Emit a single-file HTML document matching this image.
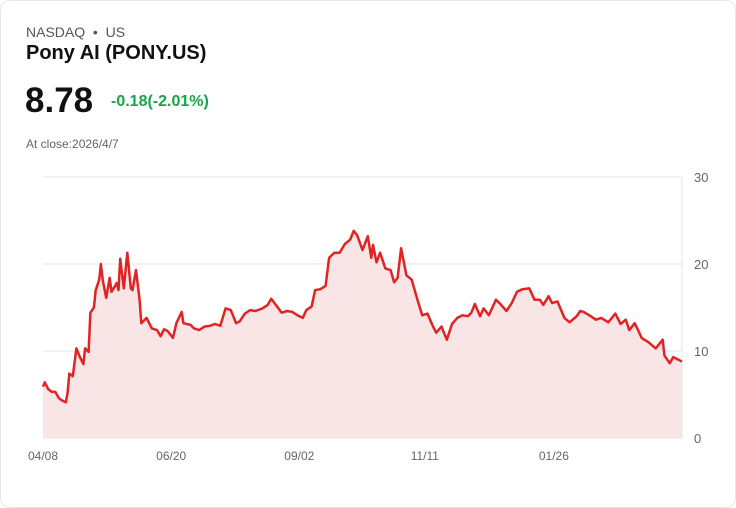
<!DOCTYPE html>
<html><head><meta charset="utf-8"><style>
body{margin:0;background:#fff;font-family:"Liberation Sans",sans-serif;}
.card{position:absolute;left:0;top:0;width:734px;height:506px;border:1px solid #e3e6ea;border-radius:10px;background:#fff;}
.t{position:absolute;white-space:nowrap;}
</style></head><body>
<div class="card">
<div class="t" style="left:25px;top:23px;font-size:14px;color:#555;">NASDAQ &nbsp;•&nbsp; US</div>
<div class="t" style="left:25px;top:41px;font-size:20px;font-weight:bold;color:#111;">Pony AI (PONY.US)</div>
<div class="t" style="left:24px;top:80px;font-size:35px;font-weight:bold;color:#111;">8.78</div>
<div class="t" style="left:110px;top:92px;font-size:16px;font-weight:bold;color:#1aa34a;">-0.18(-2.01%)</div>
<div class="t" style="left:25px;top:136px;font-size:12px;color:#666;">At close:2026/4/7</div>
<svg id="chart" width="736" height="508" style="position:absolute;left:-1px;top:-1px;"></svg>
</div>
<script>
const days=[0,1,3,5,7,9,11,13,14,15,17,19,21,23,24,26,27,29,30,32,33,34,36,38,39,42,43,44,46,48,50,51,53,55,56,59,62,65,67,69,71,74,76,79,80,84,86,89,92,95,98,101,104,107,110,112,115,118,121,125,128,130,133,136,139,142,145,148,150,153,155,158,161,163,166,169,172,175,177,179,182,185,187,188,190,192,195,198,200,202,204,207,210,213,216,219,222,224,227,230,233,236,239,242,244,246,249,251,254,258,261,264,267,270,273,277,280,283,285,288,290,293,297,300,304,306,308,312,315,318,322,326,329,332,334,337,339,341,345,349,353,354,357,359,362,364];
const prices=[5.9,6.4,5.6,5.3,5.3,4.6,4.3,4.1,5.2,7.4,7.1,10.3,9.3,8.5,10.3,9.9,14.4,15.0,17,18.2,20.0,18.2,16.1,18.4,16.8,17.8,17.0,20.6,17.2,21.3,17.2,17,19.3,15.9,13.2,13.8,12.6,12.4,11.7,12.5,12.3,11.5,13.2,14.5,13.2,13.0,12.6,12.4,12.8,12.9,13.1,12.9,14.9,14.7,13.2,13.4,14.3,14.7,14.6,14.9,15.3,16.0,15.2,14.4,14.6,14.5,14.1,13.8,14.7,15.1,17.0,17.1,17.5,20.7,21.3,21.3,22.3,22.8,23.8,23.3,21.6,23.2,20.7,22.2,20.2,21.3,19.5,19.3,17.9,18.4,21.8,18.7,18.2,16.1,14.1,14.3,12.9,12.1,12.8,11.3,13.1,13.8,14.1,14,14.4,15.4,14.0,14.9,14.1,15.9,15.3,14.6,15.5,16.8,17.1,17.2,15.9,15.9,15.3,16.3,15.5,15.7,13.8,13.3,14.0,14.6,14.5,14.0,13.6,13.8,13.3,14.3,13.1,13.6,12.4,13.2,12.4,11.5,11.0,10.3,11.3,9.5,8.6,9.3,9.0,8.78];
const yTicks=[0,10,20,30];
const xLabels=["04/08","06/20","09/02","11/11","01/26"];
const xLabelDays=[0,73,146,218,291];
const NS="http://www.w3.org/2000/svg";
const svg=document.getElementById('chart');
const X0=43,X1=682,Y0=438,Y1=177,DMAX=364,VMAX=30;
const sx=d=>X0+(X1-X0)*d/DMAX;
const sy=v=>Y0-(Y0-Y1)*v/VMAX;
function mk(tag,at){const e=document.createElementNS(NS,tag);for(const k in at)e.setAttribute(k,at[k]);svg.appendChild(e);return e;}
yTicks.forEach(v=>{
 const g=mk('line',{x1:X0,x2:X1,y1:sy(v),y2:sy(v),stroke:'#e6e6e6','stroke-width':1});
 
 
 const t=mk('text',{x:694,y:sy(v)+5,'font-size':13,fill:'#666','font-family':'Liberation Sans, sans-serif'});
 t.textContent=v;
 
 
});
const ax=mk('line',{x1:X1,x2:X1,y1:Y1,y2:Y0,stroke:'#e6e6e6','stroke-width':1});


let d='';days.forEach((dd,i)=>{d+=(i?'L':'M')+sx(dd).toFixed(1)+','+sy(prices[i]).toFixed(1);});
const area=mk('path',{d:d+'L'+sx(days[days.length-1])+','+Y0+'L'+sx(0)+','+Y0+'Z',fill:'#f9e5e5'});


const line=mk('path',{d:d,fill:'none',stroke:'#e02424','stroke-width':2.5,'stroke-linejoin':'round'});


xLabels.forEach((l,i)=>{
 const t=mk('text',{x:sx(xLabelDays[i])+(i==0?-15:-15),y:460,'font-size':12,fill:'#666','font-family':'Liberation Sans, sans-serif'});
 t.textContent=l;
 
 
});
</script>
</body></html>
